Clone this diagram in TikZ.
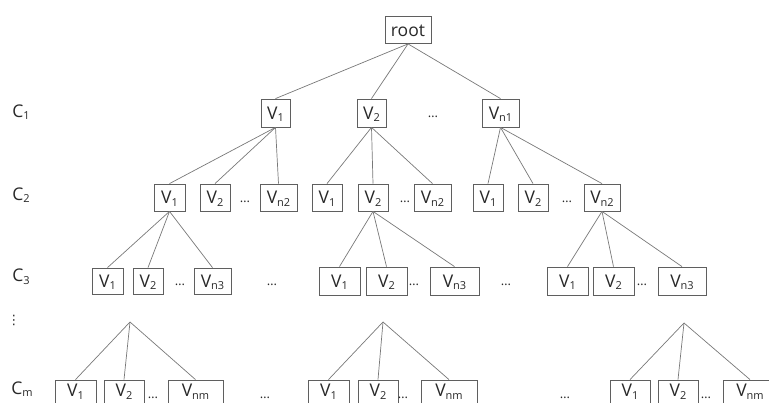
\documentclass[tikz,border=0pt]{standalone}
\usepackage{fontspec}
\setmainfont{Open Sans}
\newfontfamily\dejavu{DejaVu Sans}
\definecolor{linecol}{RGB}{120,120,120}
\definecolor{boxcol}{RGB}{95,95,95}
\definecolor{txtcol}{RGB}{40,40,40}
\newcommand{\lsub}[1]{\raisebox{-2.6pt}{\fontsize{11}{11}\selectfont #1}}
\begin{document}
\begin{tikzpicture}[x=1pt,y=-1pt,
  vbox/.style={draw=boxcol, line width=0.8pt, inner sep=0pt, minimum height=27, text height=12.5pt, text depth=0pt, text=txtcol, font=\fontsize{17.5}{18}\selectfont},
  mbox/.style={vbox, minimum height=28, text depth=6.5pt},
  dots/.style={inner sep=0pt, text=txtcol, font=\fontsize{13}{13}\selectfont},
  lvl/.style={inner sep=0pt, text=txtcol, font=\fontsize{17.5}{18}\selectfont},
  edge/.style={draw=linecol, line width=0.7pt}]
\useasboundingbox (0,0) rectangle (769,403);
\clip (0,0) rectangle (769,403);
% level labels
\node[lvl] (l1) at (21,112) {C\lsub{1}};
\node[lvl] (l2) at (21,195) {C\lsub{2}};
\node[lvl] (l3) at (21,277) {C\lsub{3}};
\node[lvl] (lv) at (14,320) {\dejavu\fontsize{13}{13}\selectfont ⋮};
\node[lvl] (lm) at (22,389) {C\lsub{m}};
% root
\node[vbox, minimum width=46] (root) at (408,30) {root};
% C1
\node[vbox, minimum width=29, minimum height=28] (a1) at (275.5,113) {V\lsub{1}};
\node[vbox, minimum width=29, minimum height=28] (a2) at (371.5,113) {V\lsub{2}};
\node[dots] (ad) at (433,117) {…};
\node[vbox, minimum width=37, minimum height=28] (an) at (500.5,113) {V\lsub{n1}};
% C2
\node[vbox, minimum width=31] (b11) at (169.5,197.5) {V\lsub{1}};
\node[vbox, minimum width=30] (b12) at (215,197.5) {V\lsub{2}};
\node[dots] (b1d) at (245,202) {…};
\node[vbox, minimum width=37] (b1n) at (278.5,197.5) {V\lsub{n2}};
\node[vbox, minimum width=30] (b21) at (327,197.5) {V\lsub{1}};
\node[vbox, minimum width=30] (b22) at (373,197.5) {V\lsub{2}};
\node[dots] (b2d) at (405,202) {…};
\node[vbox, minimum width=37] (b2n) at (432.5,197.5) {V\lsub{n2}};
\node[vbox, minimum width=30] (b31) at (488,197.5) {V\lsub{1}};
\node[vbox, minimum width=30] (b32) at (533,197.5) {V\lsub{2}};
\node[dots] (b3d) at (567,202) {…};
\node[vbox, minimum width=36] (b3n) at (602,197.5) {V\lsub{n2}};
% C3
\node[vbox, minimum width=31, minimum height=26] (c11) at (107.5,281) {V\lsub{1}};
\node[vbox, minimum width=30, minimum height=26] (c12) at (148,281) {V\lsub{2}};
\node[dots] (c1d) at (180,285) {…};
\node[vbox, minimum width=37, minimum height=26] (c1n) at (212.5,281) {V\lsub{n3}};
\node[dots] (cda) at (272,285) {…};
\node[vbox, minimum width=41, minimum height=28] (c21) at (339.5,281) {V\lsub{1}};
\node[vbox, minimum width=41, minimum height=28] (c22) at (386.5,281) {V\lsub{2}};
\node[dots] (c2d) at (414,285) {…};
\node[vbox, minimum width=49, minimum height=28] (c2n) at (454.5,281) {V\lsub{n3}};
\node[dots] (cdb) at (506,285) {…};
\node[vbox, minimum width=41, minimum height=28] (c31) at (567.5,281) {V\lsub{1}};
\node[vbox, minimum width=41, minimum height=28] (c32) at (613.5,281) {V\lsub{2}};
\node[dots] (c3d) at (642,285) {…};
\node[vbox, minimum width=48, minimum height=28] (c3n) at (682,281) {V\lsub{n3}};
% Cm
\node[mbox, minimum width=41] (m11) at (75.5,394) {V\lsub{1}};
\node[mbox, minimum width=40] (m12) at (124,394) {V\lsub{2}};
\node[dots] (m1d) at (153,398) {…};
\node[mbox, minimum width=55] (m1n) at (195.5,394) {V\lsub{nm}};
\node[dots] (mda) at (265,398) {…};
\node[mbox, minimum width=41] (m21) at (328.5,394) {V\lsub{1}};
\node[mbox, minimum width=40] (m22) at (378,394) {V\lsub{2}};
\node[dots] (m2d) at (403,398) {…};
\node[mbox, minimum width=56] (m2n) at (449,394) {V\lsub{nm}};
\node[dots] (mdb) at (565,398) {…};
\node[mbox, minimum width=40] (m31) at (630,394) {V\lsub{1}};
\node[mbox, minimum width=40] (m32) at (678,394) {V\lsub{2}};
\node[dots] (m3d) at (706,398) {…};
\node[mbox, minimum width=54] (m3n) at (750,394) {V\lsub{nm}};
% apexes
\coordinate (p1) at (130,322);
\coordinate (p2) at (383,322);
\coordinate (p3) at (684,323);
% edges
\foreach \c in {a1,a2,an} \draw[edge] (root.south) -- (\c.north);
\foreach \c in {b11,b12,b1n} \draw[edge] (a1.south) -- (\c.north);
\foreach \c in {b21,b22,b2n} \draw[edge] (a2.south) -- (\c.north);
\foreach \c in {b31,b32,b3n} \draw[edge] (an.south) -- (\c.north);
\foreach \c in {c11,c12,c1n} \draw[edge] (b11.south) -- (\c.north);
\foreach \c in {c21,c22,c2n} \draw[edge] (b22.south) -- (\c.north);
\foreach \c in {c31,c32,c3n} \draw[edge] (b3n.south) -- (\c.north);
\foreach \c in {m11,m12,m1n} \draw[edge] (p1) -- (\c.north);
\foreach \c in {m21,m22,m2n} \draw[edge] (p2) -- (\c.north);
\foreach \c in {m31,m32,m3n} \draw[edge] (p3) -- (\c.north);
\end{tikzpicture}
\end{document}
